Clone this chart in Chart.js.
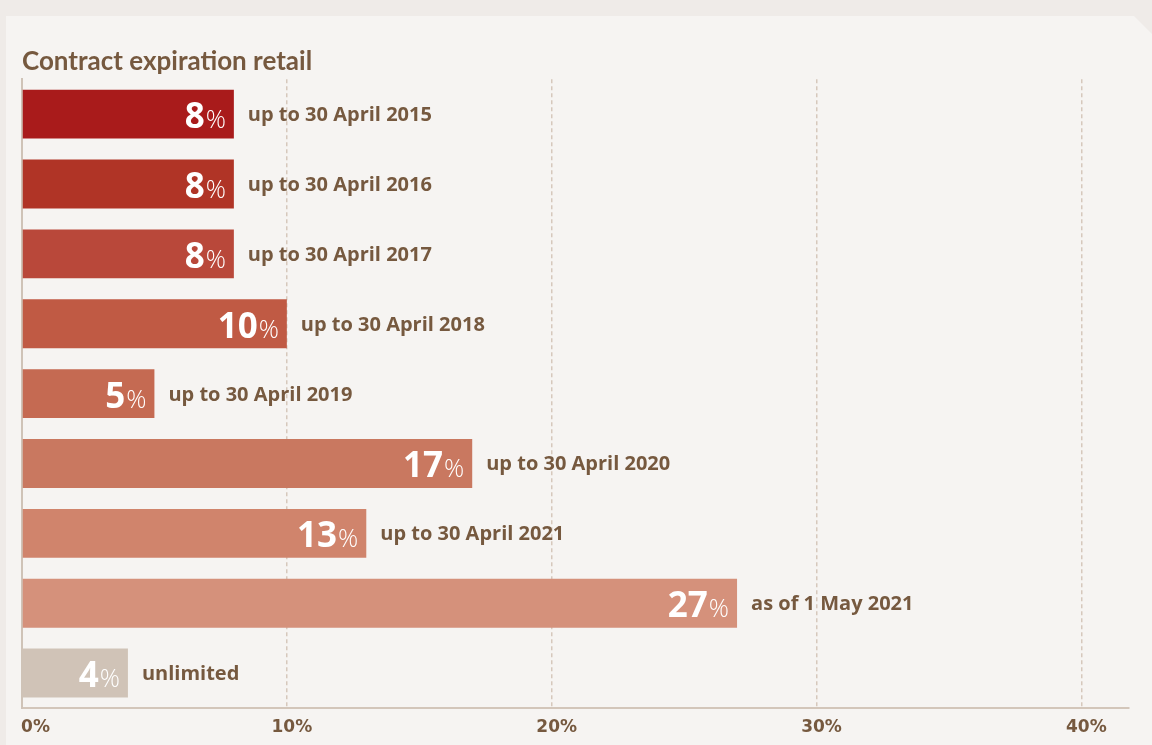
<!DOCTYPE html>
<html>
<head>
<meta charset="utf-8">
<script src="https://cdn.jsdelivr.net/npm/chart.js@4/dist/chart.umd.min.js"></script>
<style>
  html, body { margin: 0; padding: 0; background: #efebe8; }
  canvas { display: block; }
</style>
</head>
<body>
<canvas id="expChart" width="1152" height="745"></canvas>
<script>
// chart data
const categories = ['up to 30 April 2015', 'up to 30 April 2016', 'up to 30 April 2017', 'up to 30 April 2018',
  'up to 30 April 2019', 'up to 30 April 2020', 'up to 30 April 2021', 'as of 1 May 2021', 'unlimited'];
const shares = [8, 8, 8, 10, 5, 17, 13, 27, 4];
const barColors = ['#a91b1b', '#b03426', '#b9483a', '#c05a44', '#c56a52', '#c97860', '#d0846c', '#d5917b', '#d0c3b7'];
const tickValues = [0, 10, 20, 30, 40];
const tickLabels = ['0%', '10%', '20%', '30%', '40%'];
const xMax = 41.8;

const brown = '#76593f';

// panel background with the cut corner
const panelBg = {
  id: 'panelBg',
  beforeDraw(chart) {
    const c = chart.ctx;
    c.save();
    c.fillStyle = '#efebe8';
    c.fillRect(0, 0, chart.width, chart.height);
    c.fillStyle = '#f6f4f2';
    c.beginPath();
    c.moveTo(6, 16);
    c.lineTo(1134, 16);
    c.lineTo(1152, 34);
    c.lineTo(1152, 745);
    c.lineTo(6, 745);
    c.closePath();
    c.fill();
    c.restore();
  }
};

// values inside the bars, category names after them
const barLabels = {
  id: 'barLabels',
  afterDatasetsDraw(chart) {
    const c = chart.ctx;
    const meta = chart.getDatasetMeta(0);
    c.save();
    meta.data.forEach((bar, i) => {
      const xEnd = bar.x, yMid = bar.y;
      c.fillStyle = '#ffffff';
      c.textBaseline = 'alphabetic';
      c.textAlign = 'right';
      c.font = '300 25px "Open Sans"';
      const pw = c.measureText('%').width;
      c.fillText('%', xEnd - 8, yMid + 14);
      c.font = '700 35px "Open Sans"';
      c.fillText(String(shares[i]), xEnd - 8 - pw - 1, yMid + 14);

      c.fillStyle = brown;
      c.textAlign = 'left';
      c.font = '700 20px "Open Sans"';
      c.fillText(categories[i], xEnd + 14, yMid + 7);
    });
    c.restore();
  }
};

Chart.defaults.font.family = '"DejaVu Sans"';

const chart = new Chart(document.getElementById('expChart'), {
  type: 'bar',
  data: {
    labels: categories,
    datasets: [{
      data: shares,
      backgroundColor: barColors,
      borderWidth: 0,
      barPercentage: 0.7,
      categoryPercentage: 1
    }]
  },
  options: {
    indexAxis: 'y',
    responsive: false,
    animation: false,
    layout: { padding: { left: 22, right: 23, top: 0, bottom: 0 } },
    plugins: {
      legend: { display: false },
      tooltip: { enabled: false },
      title: {
        display: true,
        text: 'Contract expiration retail',
        align: 'start',
        color: brown,
        font: { family: 'Lato', size: 26, weight: '700' },
        padding: { top: 46, bottom: 2 }
      }
    },
    scales: {
      x: {
        type: 'linear',
        min: 0,
        max: xMax,
        afterBuildTicks(scale) {
          scale.ticks = tickValues.map(v => ({ value: v }));
        },
        afterFit(scale) {
          scale.height = 37;
          scale.paddingLeft = 0;
          scale.paddingRight = 0;
        },
        grid: {
          drawTicks: false,
          lineWidth: 1.5,
          color: ctx => (ctx.tick && ctx.tick.value === 0) ? 'rgba(0,0,0,0)' : '#d6c8bc'
        },
        border: { display: true, color: '#d3c6ba', width: 2, dash: [4, 3] },
        ticks: {
          padding: 9,
          labelOffset: 5,
          color: brown,
          font: { size: 17, weight: 'bold' },
          callback: (v) => {
            const i = tickValues.indexOf(v);
            return i === 0 ? '\u2003' + tickLabels[i] : tickLabels[i];
          }
        }
      },
      y: {
        type: 'category',
        afterFit(scale) { scale.width = 0; },
        ticks: { display: false },
        grid: { display: false },
        border: { display: true, color: '#cfc3b7', width: 2 }
      }
    }
  },
  plugins: [panelBg, barLabels]
});
</script>
</body>
</html>
